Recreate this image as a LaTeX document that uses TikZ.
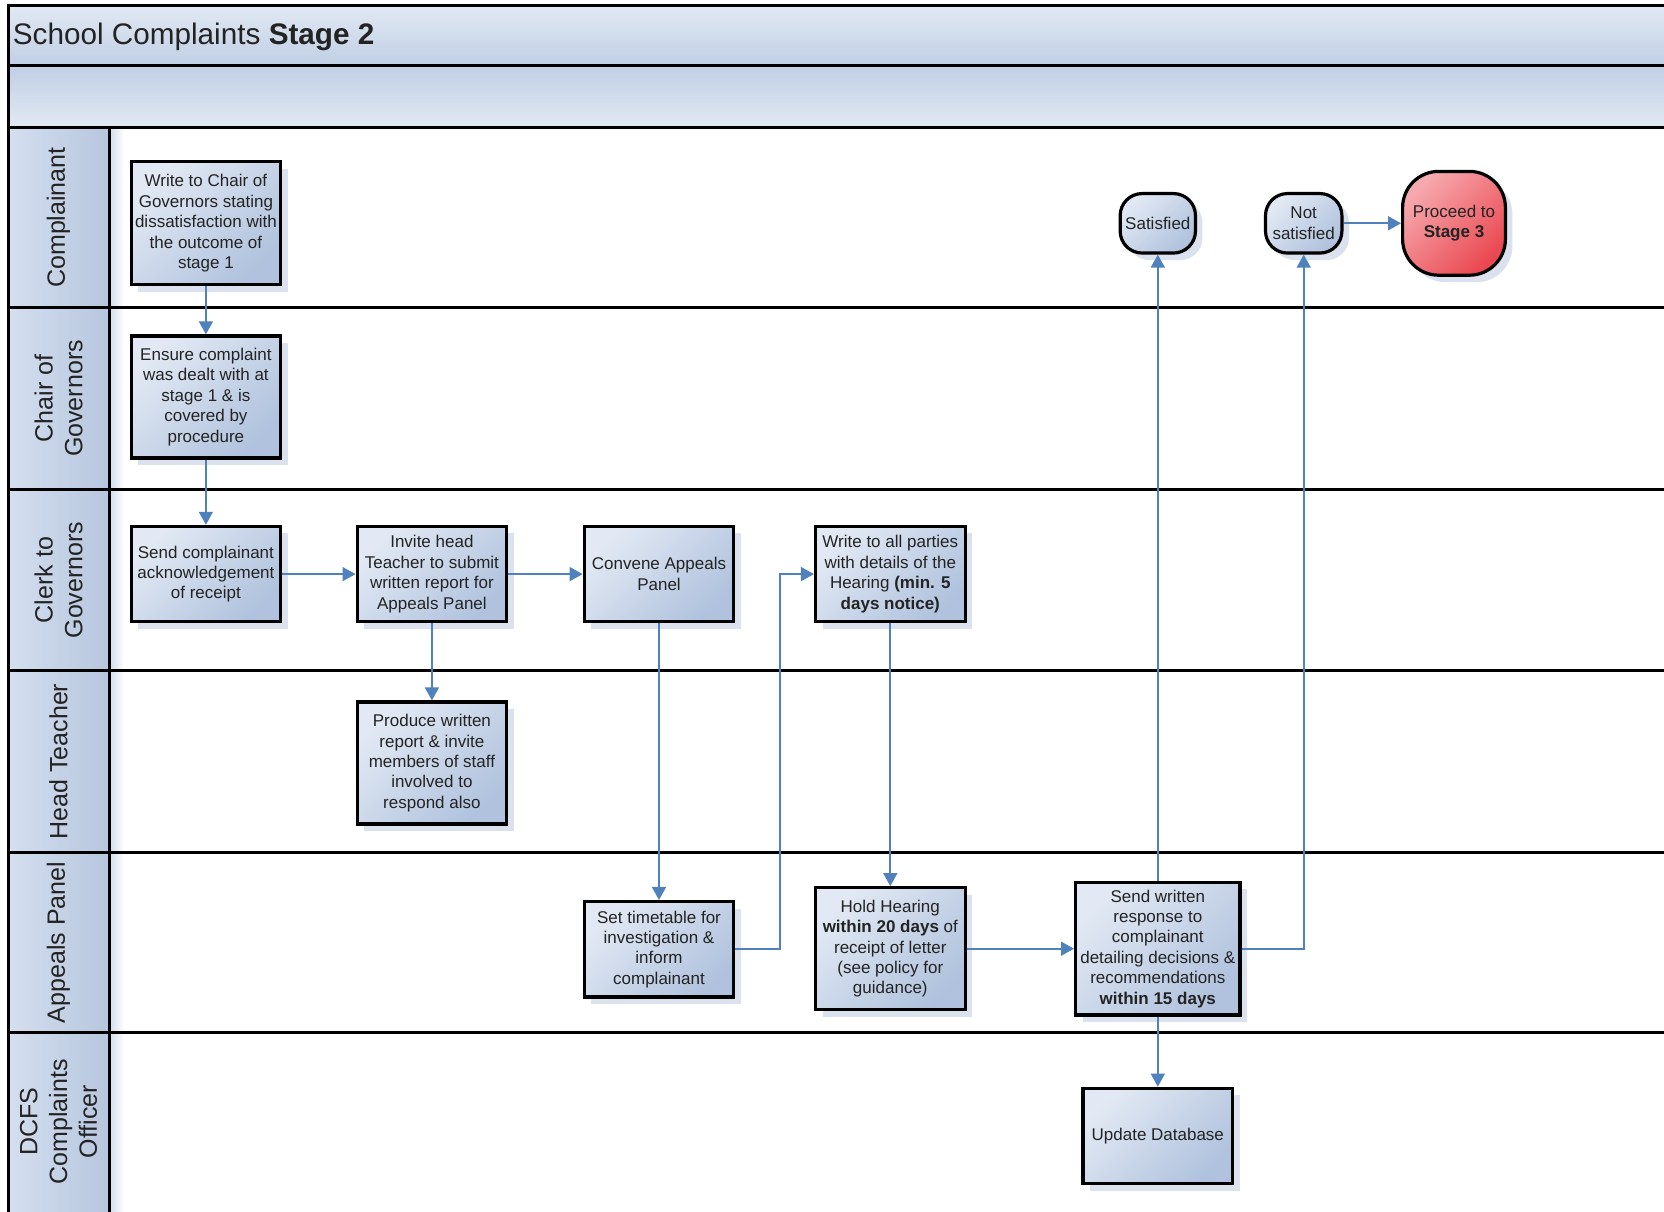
\documentclass[tikz,border=0pt]{standalone}
\usepackage{fontspec}
\setmainfont{Liberation Sans}
\usetikzlibrary{shadows,arrows.meta,calc}

\definecolor{arrowblue}{RGB}{79,129,189}
\definecolor{boxtop}{RGB}{226,233,244}
\definecolor{boxbot}{RGB}{176,194,221}
\definecolor{shadowc}{RGB}{214,221,234}
\definecolor{hdrleft}{RGB}{212,223,239}
\definecolor{hdrright}{RGB}{182,198,222}
\definecolor{stripc}{RGB}{214,224,238}
\definecolor{bandtop}{RGB}{226,233,243}
\definecolor{bandbot}{RGB}{192,207,229}
\definecolor{redlight}{RGB}{246,170,175}
\definecolor{reddark}{RGB}{234,72,80}
\definecolor{txt}{RGB}{35,35,35}

\begin{document}
\begin{tikzpicture}[x=1pt,y=-1pt,
  sep/.style={draw=black,line width=3.2pt},
  shad/.style={drop shadow={shadow xshift=7pt,shadow yshift=-7pt,fill=shadowc,opacity=0.85}},
  proc/.style={draw=black,line width=3.2pt,rectangle,inner sep=0pt,
    minimum width=149.6pt,align=center,
    font=\fontsize{17}{20.4}\selectfont,text=txt,
    top color=boxtop,bottom color=boxbot,shading angle=45,shad},
  term/.style={proc,rounded corners=22pt,minimum height=59.5pt},
  redterm/.style={proc,rounded corners=36pt,minimum width=102.8pt,minimum height=103.8pt,
    top color=redlight,bottom color=reddark,shading angle=45},
  lanehdr/.style={rotate=90,align=center,inner sep=0pt,
    font=\fontsize{25}{29.7}\selectfont,text=txt},
  arr/.style={draw=arrowblue,line width=1.7pt,-{Triangle[length=13pt,width=14pt]}}
]
\useasboundingbox (0,0) rectangle (1664,1211);
\fill[white] (0,0) rectangle (1664,1211);

% bands
\shade[top color=bandtop,bottom color=bandbot] (8.5,5.3) rectangle (1670,65.8);
\shade[top color=bandbot,bottom color=bandtop] (8.5,65.8) rectangle (1670,127.3);
% header column
\shade[left color=hdrleft,right color=hdrright] (8.5,127.3) rectangle (109.3,1215);
\shade[left color=stripc,right color=white] (110.9,127.3) rectangle (124,1215);

% lines
\draw[sep] (1670,5.3) -- (8.5,5.3) -- (8.5,1215);
\foreach \yy in {65.8,127.3,307.7,489.2,670.7,852.2,1032.5}
  \draw[sep] (8.5,\yy) -- (1670,\yy);
\draw[sep] (109.3,127.3) -- (109.3,1215);

% title
\node[anchor=base west,inner sep=0pt,font=\fontsize{29.7}{32}\selectfont,text=txt]
  (title) at (12.7,44.6) {School Complaints \textbf{Stage 2}};

% lane headers
\node[lanehdr] (h1) at (58.5,217.5) {Complainant};
\node[lanehdr] (h2) at (58.5,398.5) {Chair of\\Governors};
\node[lanehdr] (h3) at (58.5,580) {Clerk to\\Governors};
\node[lanehdr] (h4) at (58.5,761.5) {Head Teacher};
\node[lanehdr] (h5) at (58.5,942.4) {Appeals Panel};
\node[lanehdr] (h6) at (58.5,1121.8) {DCFS\\Complaints\\Officer};

% process boxes
\node[proc,minimum height=123.1pt] (b1) at (205.9,223.3)
  {Write to Chair of\\Governors stating\\dissatisfaction with\\the outcome of\\stage 1};
\node[proc,minimum height=122pt] (b2) at (205.9,396.9)
  {Ensure complaint\\was dealt with at\\stage 1 \& is\\covered by\\procedure};
\node[proc,minimum height=95.5pt] (b3) at (205.9,574.1)
  {Send complainant\\acknowledgement\\of receipt};
\node[proc,minimum height=95.5pt] (b4) at (431.9,574.1)
  {Invite head\\Teacher to submit\\written report for\\Appeals Panel};
\node[proc,minimum height=95.5pt] (b5) at (659,574.1)
  {Convene Appeals\\Panel};
\node[proc,minimum height=95.5pt] (b6) at (890.3,574.1)
  {Write to all parties\\with details of the\\Hearing \textbf{(min. 5}\\\textbf{days notice)}};
\node[proc,minimum height=122pt] (b7) at (431.9,763)
  {Produce written\\report \& invite\\members of staff\\involved to\\respond also};
\node[proc,minimum height=95.5pt] (b8) at (659,949.3)
  {Set timetable for\\investigation \&\\inform\\complainant};
\node[proc,minimum height=122pt] (b9) at (890.3,948.7)
  {Hold Hearing\\\textbf{within 20 days} of\\receipt of letter\\(see policy for\\guidance)};
\node[proc,minimum width=164.4pt,minimum height=132.6pt] (b10) at (1157.8,948.7)
  {Send written\\response to\\complainant\\detailing decisions \&\\recommendations\\\textbf{within 15 days}};
\node[proc,minimum height=95.5pt] (b11) at (1157.8,1136)
  {Update Database};

% terminals
\node[term,minimum width=75.3pt] (sat) at (1157.8,223.3) {Satisfied};
\node[term,minimum width=76.4pt] (ns) at (1303.7,223.3) {Not\\satisfied};
\node[redterm] (p3) at (1454,223.3) {Proceed to\\\textbf{Stage 3}};

% connectors
\coordinate (elb) at (780,0);
\draw[arr] (b1.south) -- (b2.north);
\draw[arr] (b2.south) -- (b3.north);
\draw[arr] (b3.east) -- (b4.west);
\draw[arr] (b4.east) -- (b5.west);
\draw[arr] (b4.south) -- (b7.north);
\draw[arr] (b5.south) -- (b8.north);
\draw[arr] (b8.east) -- (b8.east -| elb) |- (b6.west);
\draw[arr] (b6.south) -- (b9.north);
\draw[arr] (b9.east) -- (b10.west);
\draw[arr] (b10.north) -- (sat.south);
\draw[arr] (b10.east) -| (ns.south);
\draw[arr] (ns.east) -- (p3.west);
\draw[arr] (b10.south) -- (b11.north);
\end{tikzpicture}
\end{document}
